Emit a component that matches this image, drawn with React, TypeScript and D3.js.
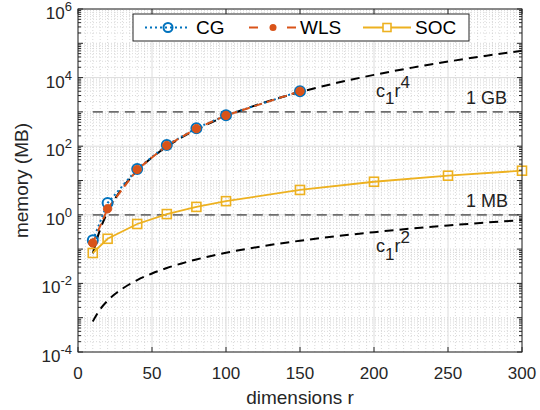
import React from "react";
import * as d3 from "d3";

const rData = [10, 20, 40, 60, 80, 100, 150];
const cgData = [0.18, 2.2, 21.6, 108, 335, 800, 4000];
const wlsData = [0.15, 1.5, 21, 105, 325, 790, 4000];
const socR = [10, 20, 40, 60, 80, 100, 150, 200, 250, 300];
const socData = [0.077, 0.2, 0.54, 1.05, 1.7, 2.5, 5.3, 9.2, 13.8, 19.3];
const curveR = [10, 15, 20, 25, 30, 40, 50, 60, 70, 80, 90, 100, 125, 150, 175, 200, 225, 250, 275, 300];
const r4Curve = [0.075, 0.38, 1.2, 2.93, 6.075, 19.2, 46.9, 97.2, 180, 307, 492, 750, 1831, 3797, 7034, 12000, 19222, 29297, 42892, 60750];
const r2Curve = [7.8e-4, 1.76e-3, 3.12e-3, 4.88e-3, 7.02e-3, 0.01248, 0.0195, 0.0281, 0.0382, 0.0499, 0.0632, 0.078, 0.122, 0.1755, 0.239, 0.312, 0.395, 0.4875, 0.59, 0.702];
const xTicks = [0, 50, 100, 150, 200, 250, 300];
const yTickExps = [-4, -2, 0, 2, 4, 6];
const refLevels = [1, 1000];
const refLabels = ["1 MB", "1 GB"];
const legendNames = ["CG", "WLS", "SOC"];

const W = 540, H = 410;
const L = 78, R = 522, T = 9, B = 352;
const FONT = "'Liberation Sans', Arial, Helvetica, sans-serif";
const C_CG = "#0072BD", C_WLS = "#D95319", C_SOC = "#EDB120";

export default function App() {
  const x = d3.scaleLinear().domain([0, 300]).range([L, R]);
  const y = d3.scaleLog().domain([1e-4, 1e6]).range([B, T]);

  const line = (xs: number[], ys: number[], curve = d3.curveLinear) =>
    d3.line<number>().x((_, i) => x(xs[i])).y((d) => y(d)).curve(curve)(ys) || "";

  const minorY: number[] = [];
  for (let e = -4; e < 6; e++) {
    for (let k = 1; k <= 9; k++) {
      const v = k * Math.pow(10, e);
      if (k === 1 && yTickExps.includes(e)) continue;
      minorY.push(v);
    }
  }
  const minorX: number[] = d3.range(5, 300, 5).filter((v) => v % 50 !== 0);

  const cap = (cx: number, cy: number) => (
    <rect x={cx - 4.5} y={cy - 4.5} width={9} height={9} fill="none" stroke={C_SOC} strokeWidth={1.6} />
  );

  return (
    <svg width={W} height={H} style={{ position: "absolute", left: 0, top: 0, background: "#fff" }} fontFamily={FONT}>
      <rect x={0} y={0} width={W} height={H} fill="#fff" />
      <g stroke="#c8c8c8" strokeWidth={0.7} strokeDasharray="1,2">
        {minorX.map((v) => (
          <line key={"mx" + v} x1={x(v)} x2={x(v)} y1={T} y2={B} />
        ))}
        {minorY.map((v, i) => (
          <line key={"my" + i} x1={L} x2={R} y1={y(v)} y2={y(v)} />
        ))}
      </g>
      <g stroke="#dcdcdc" strokeWidth={1}>
        {xTicks.map((v) => (
          <line key={"gx" + v} x1={x(v)} x2={x(v)} y1={T} y2={B} />
        ))}
        {yTickExps.map((e) => (
          <line key={"gy" + e} x1={L} x2={R} y1={y(Math.pow(10, e))} y2={y(Math.pow(10, e))} />
        ))}
      </g>
      {refLevels.map((v) => (
        <line key={"ref" + v} x1={x(10)} x2={x(300)} y1={y(v)} y2={y(v)} stroke="#6e6e6e" strokeWidth={1.8} strokeDasharray="10,6" />
      ))}
      {/* power curves */}
      <path d={line(curveR, r4Curve, d3.curveMonotoneX)} fill="none" stroke="#000" strokeWidth={2} strokeDasharray="9,6" />
      <path d={line(curveR, r2Curve, d3.curveMonotoneX)} fill="none" stroke="#000" strokeWidth={2} strokeDasharray="9,6" />
      {/* data lines */}
      <path d={line(rData, cgData)} fill="none" stroke={C_CG} strokeWidth={2} strokeDasharray="2,3" />
      <path d={line(rData, wlsData)} fill="none" stroke={C_WLS} strokeWidth={2} strokeDasharray="8,5" />
      <path d={line(socR, socData)} fill="none" stroke={C_SOC} strokeWidth={1.8} />
      {rData.map((r, i) => (
        <circle key={"cg" + i} cx={x(r)} cy={y(cgData[i])} r={5} fill="none" stroke={C_CG} strokeWidth={2} />
      ))}
      {rData.map((r, i) => (
        <circle key={"wl" + i} cx={x(r)} cy={y(wlsData[i])} r={4.2} fill={C_WLS} stroke={C_WLS} strokeWidth={1} />
      ))}
      {socR.map((r, i) => <g key={"so" + i}>{cap(x(r), y(socData[i]))}</g>)}

      <g fontSize={18} fill="#222">
        {refLevels.map((v, i) => (
          <text key={"rl" + v} x={466} y={y(v) - 8}>{refLabels[i]}</text>
        ))}
        <text x={376} y={97}>c<tspan dy={7} fontSize={17}>1</tspan><tspan dy={-7}>r</tspan><tspan dy={-9} fontSize={17}>4</tspan></text>
        <text x={376} y={252}>c<tspan dy={8} fontSize={17}>1</tspan><tspan dy={-8}>r</tspan><tspan dy={-9} fontSize={17}>2</tspan></text>
      </g>

      <rect x={L} y={T} width={R - L} height={B - T} fill="none" stroke="#262626" strokeWidth={1} />
      <g stroke="#262626" strokeWidth={1}>
        {xTicks.map((v) => (
          <g key={"tx" + v}>
            <line x1={x(v)} x2={x(v)} y1={B} y2={B - 5} />
            <line x1={x(v)} x2={x(v)} y1={T} y2={T + 5} />
          </g>
        ))}
        {d3.range(-4, 7).map((e) => (
          <g key={"ty" + e}>
            <line x1={L} x2={L + 5} y1={y(Math.pow(10, e))} y2={y(Math.pow(10, e))} />
            <line x1={R} x2={R - 5} y1={y(Math.pow(10, e))} y2={y(Math.pow(10, e))} />
          </g>
        ))}
        {minorY.filter((v) => Math.abs(Math.log10(v) - Math.round(Math.log10(v))) > 1e-6).map((v, i) => (
          <g key={"mty" + i}>
            <line x1={L} x2={L + 3} y1={y(v)} y2={y(v)} />
            <line x1={R} x2={R - 3} y1={y(v)} y2={y(v)} />
          </g>
        ))}
      </g>
      <g fontSize={17} fill="#262626">
        {xTicks.map((v) => (
          <text key={"xl" + v} x={x(v)} y={B + 27} textAnchor="middle">{v}</text>
        ))}
        {yTickExps.map((e) => (
          <text key={"yl" + e} x={72} y={y(Math.pow(10, e)) + 10} textAnchor="end">
            10<tspan dy={-8} fontSize={13}>{e}</tspan>
          </text>
        ))}
      </g>
      <text x={(L + R) / 2} y={404} textAnchor="middle" fontSize={19} fill="#262626">dimensions r</text>
      <text transform={`translate(28, ${(T + B) / 2}) rotate(-90)`} textAnchor="middle" fontSize={19} fill="#262626">memory (MB)</text>

      <g>
        <rect x={133} y={14} width={336} height={27} fill="#fff" stroke="#262626" strokeWidth={1} />
        <line x1={145} x2={190} y1={27.5} y2={27.5} stroke={C_CG} strokeWidth={2} strokeDasharray="2,3" />
        <circle cx={168} cy={27.5} r={4.5} fill="none" stroke={C_CG} strokeWidth={2} />
        <text x={196} y={34} fontSize={19} fill="#000">{legendNames[0]}</text>
        <line x1={249} x2={258} y1={27.5} y2={27.5} stroke={C_WLS} strokeWidth={2} />
        <line x1={287} x2={296} y1={27.5} y2={27.5} stroke={C_WLS} strokeWidth={2} />
        <circle cx={273} cy={27.5} r={3.5} fill={C_WLS} />
        <text x={300} y={34} fontSize={19} fill="#000">{legendNames[1]}</text>
        <line x1={363} x2={411} y1={27.5} y2={27.5} stroke={C_SOC} strokeWidth={1.8} />
        <rect x={383} y={23.5} width={8} height={8} fill="#fff" stroke={C_SOC} strokeWidth={1.6} />
        <text x={415} y={34} fontSize={19} fill="#000">{legendNames[2]}</text>
      </g>
    </svg>
  );
}
